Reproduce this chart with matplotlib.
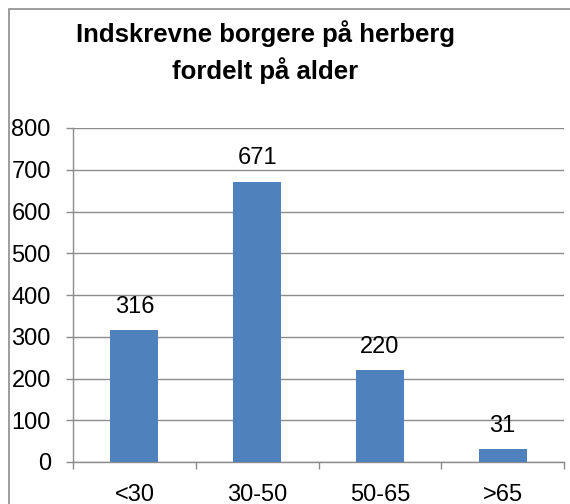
import matplotlib
matplotlib.use('Agg')
import matplotlib.pyplot as plt
from matplotlib.patches import Rectangle

plt.rcParams['font.family'] = ['Liberation Sans', 'DejaVu Sans']

# ---------------- Data ----------------
categories = ['<30', '30-50', '50-65', '>65']
values = [316, 671, 220, 31]
title = 'Indskrevne borgere på herberg\nfordelt på alder'

bar_color = '#4F81BD'
grid_color = '#8C8C8C'

fig = plt.figure(figsize=(5.70, 5.04), dpi=100)
ax = fig.add_axes([73/570, 1 - 462/504, (564 - 73)/570, (462 - 128)/504])

# outer chart frame (runs past right/bottom edge like the reference)
fig.patches.append(Rectangle((9/570, -0.1), 1.2, 1.1 - 9/504,
                             transform=fig.transFigure, fill=False,
                             edgecolor='#8C8C8C', lw=1.2))

x = range(len(categories))
ax.bar(x, values, width=0.39, color=bar_color, zorder=3)

# value labels above each bar
for xi, v in zip(x, values):
    ax.annotate(str(v), (xi, v), xytext=(0, 9), textcoords='offset points',
                ha='center', va='bottom', fontsize=17, zorder=4)

ax.set_xlim(-0.5, len(categories) - 0.5)
ax.set_ylim(0, 800)
ax.set_yticks(range(0, 801, 100))
ax.yaxis.grid(True, color=grid_color, lw=1.0, zorder=0)

# category labels centered, tick marks at category boundaries
ax.set_xticks(list(x))
ax.set_xticklabels(categories, fontsize=17)
ax.tick_params(axis='x', which='major', length=0, pad=16)
ax.set_xticks([i - 0.5 for i in range(len(categories) + 1)], minor=True)
ax.tick_params(axis='x', which='minor', length=5, color=grid_color, width=1.0)
ax.tick_params(axis='y', length=5, color=grid_color, width=1.0,
               labelsize=17, pad=11)

for side in ['top', 'right']:
    ax.spines[side].set_visible(False)
for side in ['left', 'bottom']:
    ax.spines[side].set_color(grid_color)
    ax.spines[side].set_linewidth(1.0)

fig.text(265/570, 1 - 52/504, title, ha='center', va='center',
         fontsize=18.5, fontweight='bold', linespacing=1.45)

fig.savefig('out.png', dpi=100)
